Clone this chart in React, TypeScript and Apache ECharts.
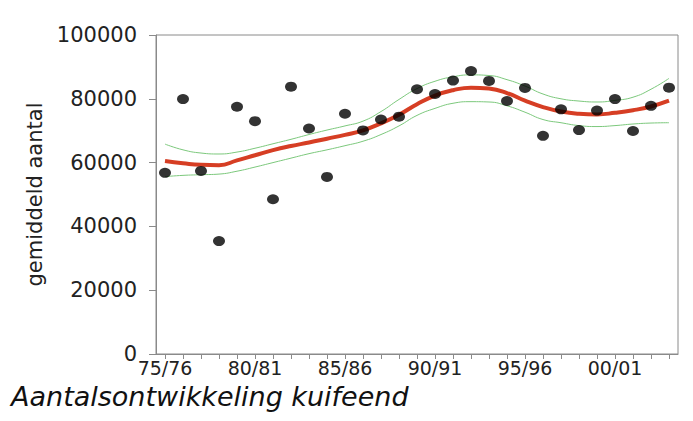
import React, { useEffect, useRef } from "react";
import * as echarts from "echarts";

const seasons: string[] = [
  "75/76", "76/77", "77/78", "78/79", "79/80", "80/81", "81/82", "82/83", "83/84", "84/85",
  "85/86", "86/87", "87/88", "88/89", "89/90", "90/91", "91/92", "92/93", "93/94", "94/95",
  "95/96", "96/97", "97/98", "98/99", "99/00", "00/01", "01/02", "02/03", "03/04",
];

const counts: number[] = [
  56800, 79900, 57400, 35400, 77500, 73000, 48500, 83800, 70700, 55500,
  75300, 70100, 73500, 74400, 83000, 81500, 85700, 88700, 85600, 79300,
  83400, 68400, 76700, 70200, 76300, 79900, 69900, 77800, 83500,
];

const trend: number[] = [
  60500, 59800, 59300, 59200, 60700, 62300, 63900, 65200, 66300, 67500,
  68700, 70100, 72300, 75000, 78300, 81000, 82700, 83500, 83200, 81800,
  79400, 77400, 76000, 75300, 75100, 75600, 76400, 77600, 79400,
];

const upper: number[] = [
  65800, 64000, 63000, 62700, 63300, 64500, 65900, 67300, 68800, 70200,
  71500, 73000, 76000, 79800, 83200, 85500, 86900, 87500, 87300, 86000,
  84000, 81500, 80000, 79300, 79000, 79500, 80500, 83000, 86400,
];

const lower: number[] = [
  55600, 56000, 56200, 56400, 57300, 58600, 60000, 61400, 62800, 64000,
  65300, 66700, 68800, 71500, 74800, 77000, 78600, 79100, 79000, 77800,
  75800, 73500, 72500, 71600, 71300, 71600, 72100, 72400, 72500,
];

const yTicks = { min: 0, max: 100000, interval: 20000 };

export default function App() {
  const ref = useRef<HTMLDivElement>(null);
  useEffect(() => {
    if (!ref.current) return;
    const chart = echarts.init(ref.current, undefined, { renderer: "svg" });
    const axisGrey = "#8a8a8a";
    chart.setOption({
      animation: false,
      backgroundColor: "#ffffff",
      title: {
        text: "Aantalsontwikkeling kuifeend",
        left: 6,
        top: 378,
        textStyle: {
          fontFamily: "DejaVu Sans",
          fontStyle: "italic",
          fontWeight: "normal",
          fontSize: 27,
          color: "#111",
        },
      },
      grid: {
        left: 156,
        right: 15,
        top: 35,
        bottom: 67,
        show: true,
        borderColor: axisGrey,
        borderWidth: 1,
        backgroundColor: "transparent",
      },
      xAxis: {
        type: "category",
        data: seasons,
        boundaryGap: true,
        axisLine: { show: true, lineStyle: { color: axisGrey, width: 1 } },
        axisTick: { show: true, interval: 0, alignWithLabel: true, length: 5, lineStyle: { color: axisGrey } },
        axisLabel: {
          interval: 4,
          margin: 4,
          fontFamily: "DejaVu Sans",
          fontSize: 19,
          color: "#222",
        },
        splitLine: { show: false },
      },
      yAxis: {
        type: "value",
        min: yTicks.min,
        max: yTicks.max,
        interval: yTicks.interval,
        name: "gemiddeld aantal",
        nameLocation: "middle",
        nameGap: 107,
        nameTextStyle: { fontFamily: "DejaVu Sans", fontSize: 21, color: "#222" },
        axisLine: { show: true, lineStyle: { color: axisGrey, width: 1 } },
        axisTick: { show: true, length: 7, lineStyle: { color: axisGrey } },
        axisLabel: {
          margin: 19,
          fontFamily: "DejaVu Sans",
          fontSize: 21,
          color: "#222",
          formatter: (v: number) => String(v),
        },
        splitLine: { show: false },
      },
      series: [
        {
          type: "line",
          data: upper,
          smooth: true,
          symbol: "none",
          lineStyle: { color: "#7cc87c", width: 1 },
          z: 2,
        },
        {
          type: "line",
          data: lower,
          smooth: true,
          symbol: "none",
          lineStyle: { color: "#7cc87c", width: 1 },
          z: 2,
        },
        {
          type: "line",
          data: trend,
          smooth: true,
          symbol: "none",
          lineStyle: { color: "#d63e24", width: 4 },
          z: 3,
        },
        {
          type: "scatter",
          data: counts,
          symbol: "circle",
          symbolSize: [12, 10],
          itemStyle: { color: "#000" },
          z: 4,
        },
      ],
    });
    return () => chart.dispose();
  }, []);
  return (
    <div
      ref={ref}
      style={{ position: "fixed", left: 0, top: 0, width: 693, height: 421 }}
    />
  );
}
